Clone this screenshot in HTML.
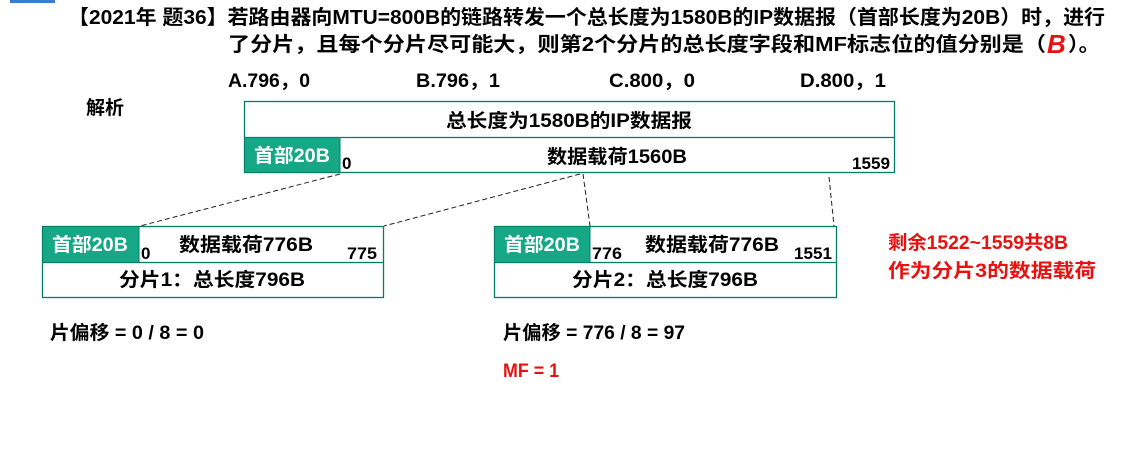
<!DOCTYPE html>
<html><head><meta charset="utf-8"><style>
html,body{margin:0;padding:0;background:#fff;width:1148px;height:453px;overflow:hidden}
svg{display:block}
text{font-family:"Liberation Sans","Noto Sans CJK SC",sans-serif;font-weight:bold;fill:#000}
.w{fill:#fff}.r{fill:#e8110f}
</style></head><body>
<svg width="1148" height="453" viewBox="0 0 1148 453" xmlns="http://www.w3.org/2000/svg">
<rect x="10" y="0" width="45" height="3" fill="#3a7bd5"/>
<text x="68" y="24" font-size="20" textLength="1037" lengthAdjust="spacingAndGlyphs">【2021年 题36】若路由器向MTU=800B的链路转发一个总长度为1580B的IP数据报（首部长度为20B）时，进行</text>
<text x="228" y="51" font-size="20" textLength="818" lengthAdjust="spacingAndGlyphs">了分片，且每个分片尽可能大，则第2个分片的总长度字段和MF标志位的值分别是（</text>
<text x="1047" y="53" font-size="26" class="r" font-style="italic" font-weight="900">B</text>
<text x="1068" y="51" font-size="20" textLength="32" lengthAdjust="spacingAndGlyphs">）。</text>
<text x="228" y="87" font-size="19" font-weight="normal" textLength="82" lengthAdjust="spacingAndGlyphs">A.796，0</text>
<text x="416" y="87" font-size="19" font-weight="normal" textLength="84" lengthAdjust="spacingAndGlyphs">B.796，1</text>
<text x="609" y="87" font-size="19" font-weight="normal" textLength="86" lengthAdjust="spacingAndGlyphs">C.800，0</text>
<text x="800" y="87" font-size="19" font-weight="normal" textLength="86" lengthAdjust="spacingAndGlyphs">D.800，1</text>
<text x="86" y="114" font-size="19">解析</text>

<g fill="none" stroke="#007f66" stroke-width="1.3">
<rect x="244.5" y="101.5" width="650" height="71"/>
<line x1="244" y1="137.5" x2="894" y2="137.5"/>
<rect x="42.5" y="226.5" width="341" height="71"/>
<line x1="42" y1="262.5" x2="383" y2="262.5"/>
<rect x="494.5" y="226.5" width="342" height="71"/>
<line x1="494" y1="262.5" x2="836" y2="262.5"/>
</g>
<rect x="245" y="138" width="95" height="34" fill="#16a886"/>
<rect x="43" y="227" width="96" height="35" fill="#16a886"/>
<rect x="495" y="227" width="95" height="35" fill="#16a886"/>
<line x1="340" y1="138" x2="340" y2="172" stroke="#007f66"/>
<line x1="139" y1="227" x2="139" y2="262" stroke="#007f66"/>
<line x1="590" y1="227" x2="590" y2="262" stroke="#007f66"/>

<g stroke="#222" stroke-width="1" stroke-dasharray="5,3" fill="none">
<line x1="340" y1="174" x2="140" y2="226"/>
<line x1="580" y1="174" x2="384" y2="226"/>
<line x1="583" y1="174" x2="590" y2="226"/>
<line x1="829" y1="177" x2="834" y2="226"/>
</g>

<text x="569" y="127" font-size="19" text-anchor="middle" textLength="246" lengthAdjust="spacingAndGlyphs">总长度为1580B的IP数据报</text>
<text x="292" y="162" font-size="19" text-anchor="middle" class="w" textLength="76" lengthAdjust="spacingAndGlyphs">首部20B</text>
<text x="342" y="169" font-size="17" font-weight="normal">0</text>
<text x="617" y="163" font-size="19" text-anchor="middle" textLength="140" lengthAdjust="spacingAndGlyphs">数据载荷1560B</text>
<text x="852" y="169" font-size="17" font-weight="normal" textLength="38" lengthAdjust="spacingAndGlyphs">1559</text>

<text x="90" y="251" font-size="19" text-anchor="middle" class="w" textLength="76" lengthAdjust="spacingAndGlyphs">首部20B</text>
<text x="141" y="259" font-size="17" font-weight="normal">0</text>
<text x="246" y="251" font-size="19" text-anchor="middle" textLength="134" lengthAdjust="spacingAndGlyphs">数据载荷776B</text>
<text x="347" y="259" font-size="17" font-weight="normal" textLength="30" lengthAdjust="spacingAndGlyphs">775</text>
<text x="212" y="286" font-size="19" text-anchor="middle" textLength="186" lengthAdjust="spacingAndGlyphs">分片1：总长度796B</text>

<text x="542" y="251" font-size="19" text-anchor="middle" class="w" textLength="76" lengthAdjust="spacingAndGlyphs">首部20B</text>
<text x="592" y="259" font-size="17" font-weight="normal" textLength="30" lengthAdjust="spacingAndGlyphs">776</text>
<text x="712" y="251" font-size="19" text-anchor="middle" textLength="134" lengthAdjust="spacingAndGlyphs">数据载荷776B</text>
<text x="794" y="259" font-size="17" font-weight="normal" textLength="38" lengthAdjust="spacingAndGlyphs">1551</text>
<text x="665" y="286" font-size="19" text-anchor="middle" textLength="186" lengthAdjust="spacingAndGlyphs">分片2：总长度796B</text>

<text x="888" y="249" font-size="19" class="r" textLength="180" lengthAdjust="spacingAndGlyphs">剩余1522~1559共8B</text>
<text x="888" y="277" font-size="19" class="r" textLength="208" lengthAdjust="spacingAndGlyphs">作为分片3的数据载荷</text>

<text x="50" y="339" font-size="19" textLength="154" lengthAdjust="spacingAndGlyphs">片偏移 = 0 / 8 = 0</text>
<text x="503" y="339" font-size="19" textLength="182" lengthAdjust="spacingAndGlyphs">片偏移 = 776 / 8 = 97</text>
<text x="503" y="377" font-size="19" class="r" textLength="56" lengthAdjust="spacingAndGlyphs">MF = 1</text>
</svg>
</body></html>
